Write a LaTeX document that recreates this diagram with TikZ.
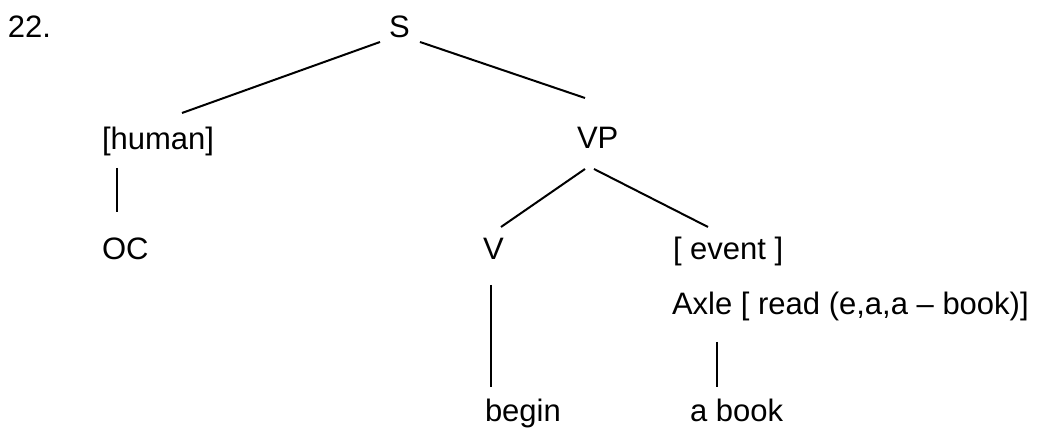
\documentclass[tikz,border=0pt]{standalone}
\usepackage{fontspec}
\setmainfont{Liberation Sans}
\begin{document}
\begin{tikzpicture}[x=0.5pt,y=-0.5pt,
  lbl/.style={anchor=base west,inner sep=0pt,outer sep=0pt,font=\fontsize{15.5}{18}\selectfont},
  edge/.style={line width=1pt,black}]
\useasboundingbox[fill=white] (0,0) rectangle (1041,431);
\node[lbl] (num) at (8,38) {22.};
\node[lbl] (S) at (389,38) {S};
\node[lbl] (human) at (102,150) {[human]};
\node[lbl] (VP) at (577,149) {VP};
\node[lbl] (OC) at (102,260) {OC};
\node[lbl] (V) at (483,260) {V};
\node[lbl] (event) at (673,260) {[ event ]};
\node[lbl] (axle) at (672,315) {Axle [ read (e,a,a – book)]};
\node[lbl] (begin) at (485,422) {begin};
\node[lbl] (abook) at (690,422) {a book};
\draw[edge] ([shift={(-9,4)}]S.base west) -- ([shift={(80,-37)}]human.base west);
\draw[edge] ([shift={(31,4)}]S.base west) -- ([shift={(8,-51)}]VP.base west);
\draw[edge] ([shift={(15,18)}]human.base west) -- ([shift={(15,-48)}]OC.base west);
\draw[edge] ([shift={(8,20)}]VP.base west) -- ([shift={(18,-33)}]V.base west);
\draw[edge] ([shift={(17,20)}]VP.base west) -- ([shift={(35,-33)}]event.base west);
\draw[edge] ([shift={(8,25)}]V.base west) -- ([shift={(6,-35)}]begin.base west);
\draw[edge] ([shift={(45,27)}]axle.base west) -- ([shift={(27,-35)}]abook.base west);
\end{tikzpicture}
\end{document}
